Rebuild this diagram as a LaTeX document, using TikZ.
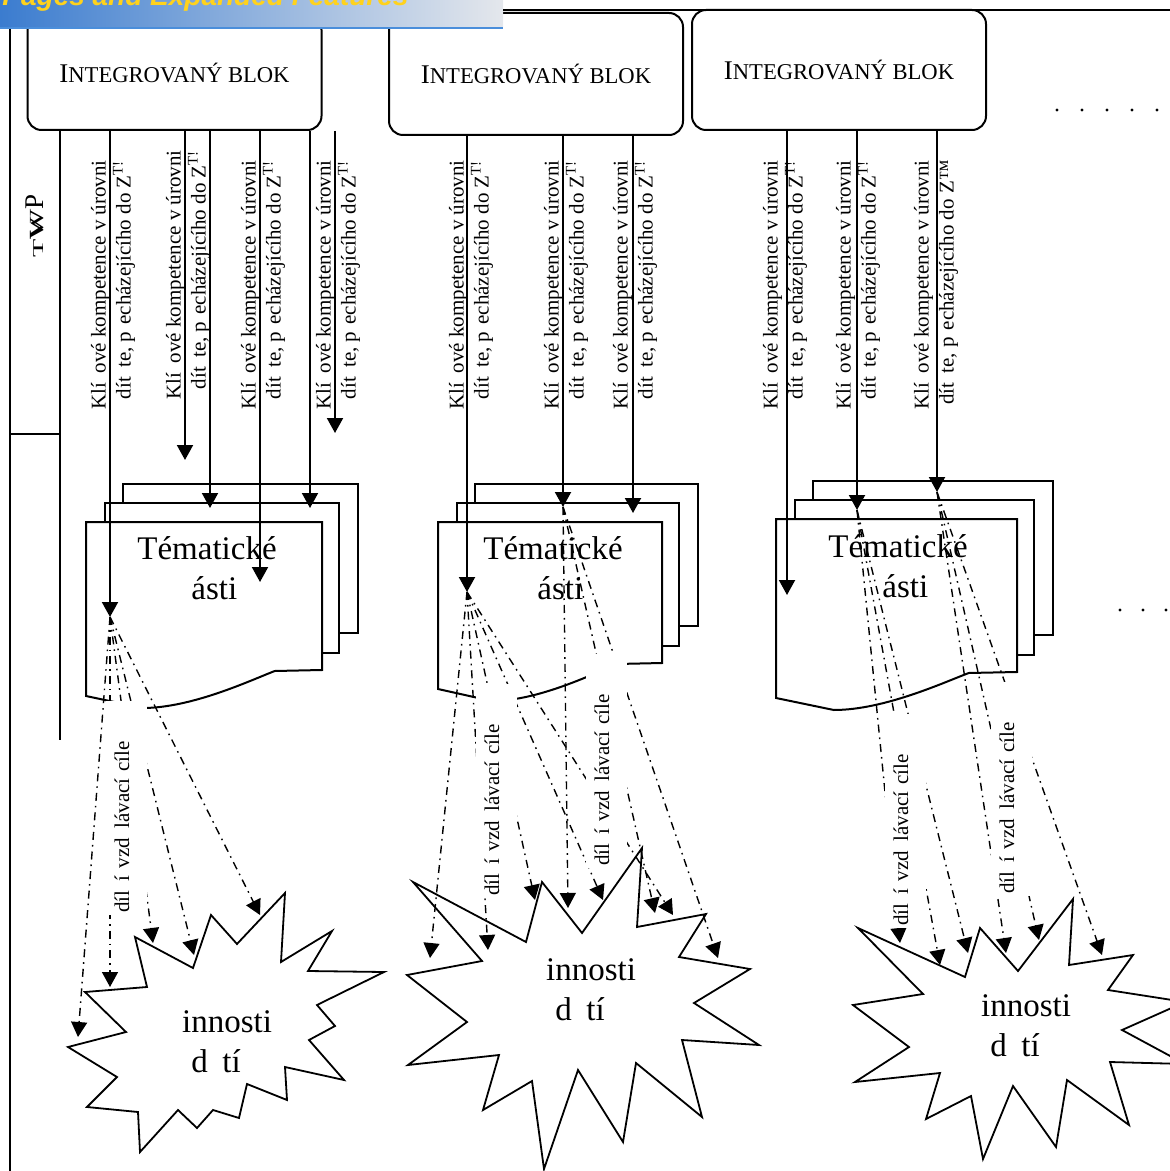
\documentclass[tikz,border=0pt]{standalone}
\usepackage{fontspec}
\setmainfont{Liberation Serif}
\newfontfamily\hdrfont{Liberation Sans}
\usepackage{tikz}
\usetikzlibrary{arrows.meta,positioning,calc}
\definecolor{hdrblue}{HTML}{3B7CCF}
\definecolor{hdrgrey}{HTML}{E4E7EC}
\definecolor{hdrgold}{HTML}{FFD21C}
\definecolor{hdrrule}{HTML}{4A8EDB}
\newcommand{\intblok}{{\fontsize{13.5}{16}\selectfont I}{\fontsize{11.3}{16}\selectfont NTEGROVANÝ BLOK}}
\newcommand{\kctext}[1]{Klí\phantom{č}ové kompetence v úrovni\\dít\phantom{ě}te, p\phantom{ř}echázejícího do Z#1}
\newcommand{\goaltext}{díl\phantom{č}í vzd\phantom{ě}lávací cíle}
\newcommand{\pagestack}[4]{%
  \draw[pagesheet] (#1+37,#2-38) -- (#1+#3+36,#2-38) -- (#1+#3+36,#2+#4-37) -- (#1+37,#2+#4-37) -- cycle;
  \draw[pagesheet] (#1+19,#2-19) -- (#1+#3+17,#2-19) -- (#1+#3+17,#2+#4-17) -- (#1+19,#2+#4-17) -- cycle;
  \draw[pagesheet] (#1,#2) -- (#1+#3,#2) -- (#1+#3,#2+#4) -- (#1+0.8*#3,#2+#4+1)
    .. controls (#1+0.7*#3,#2+#4+10) and (#1+0.45*#3,#2+#4+38) .. (#1+0.24*#3,#2+#4+38)
    -- (#1,#2+#4+26) -- cycle;
}
\tikzset{
  blok/.style={rounded corners=7pt, draw, line width=1pt, minimum width=147pt, inner sep=2pt},
  pagesheet/.style={draw, fill=white, line width=1pt},
  burst/.style={draw, fill=white, line width=0.9pt, line join=miter},
  frameline/.style={line width=1pt},
  temanode/.style={align=center, inner sep=0pt, font=\fontsize{16.5}{20}\selectfont},
  kcarrow/.style={-{Triangle[length=7.5pt,width=8pt]}, line width=1pt},
  goalarrow/.style={-{Triangle[length=7.5pt,width=8pt]}, line width=0.7pt, dash pattern=on 4pt off 2.5pt on 0.8pt off 2.5pt},
  kclabel/.style={rotate=90, anchor=east, align=right, inner sep=0pt, font=\fontsize{10.5}{12.5}\selectfont},
  goallabel/.style={rotate=90, anchor=base west, fill=white, inner sep=1pt, text width=105pt, align=left, text height=10.5pt, text depth=8pt, font=\fontsize{10.5}{12.5}\selectfont}
}
\begin{document}
\begin{tikzpicture}[x=0.5pt,y=-0.5pt]
  \useasboundingbox (0,0) rectangle (1170,1171);
  \clip (0,0) rectangle (1170,1171);

  \node[blok, minimum height=57pt] (blk1) at (174.5,73) {\intblok};
  \node[blok, minimum height=61pt] (blk2) at (536,74) {\intblok};
  \node[blok, minimum height=60pt] (blk3) at (839,70) {\intblok};

  \shade[left color=hdrblue, right color=hdrgrey] (0,0) rectangle (503,27);
  \draw[hdrrule, line width=1.2pt] (0,28) -- (503,28);
  \node[anchor=base west, inner sep=0pt, text=hdrgold, font=\hdrfont\bfseries\itshape\fontsize{14}{16}\selectfont] (hdrtext) at (2,6) {Pages and Expanded Features};

  \draw[frameline] (503,10) -- (1170,10);
  \draw[frameline, line width=1.3pt] (10,29) -- (10,1171);
  \draw[frameline] (60,130) -- (60,740);
  \draw[frameline] (10,434) -- (60,434);
  \node[rotate=90, anchor=base, inner sep=0pt] (tvp) at (43,226) {\scalebox{2}[1]{\fontsize{7.5}{8}\selectfont T}\scalebox{1.6}[1]{\fontsize{10}{10}\selectfont\rlap{V}W}{\fontsize{13.5}{14}\selectfont P}};

  \pagestack{86}{522}{236}{148}
  \pagestack{438}{522}{224}{141}
  \pagestack{776}{519}{241}{153}
  \node[temanode] (tema1) at (207,568) {Tématické\\\phantom{č}ásti};
  \node[temanode] (tema2) at (553,568) {Tématické\\\phantom{č}ásti};
  \node[temanode] (tema3) at (898,566) {Tématické\\\phantom{č}ásti};

  \draw[burst] (85,992) -- (147,987) -- (135,937) -- (193,968) -- (211,915) -- (237,944) -- (285,893) -- (281,962) -- (332,931) -- (308,971) -- (384,972) -- (317,1005) -- (335,1026) -- (309,1040) -- (344,1080) -- (285,1067) -- (287,1100) -- (247,1084) -- (239,1118) -- (213,1110) -- (197,1128) -- (178,1110) -- (140,1152) -- (138,1112) -- (87,1107) -- (117,1077) -- (68,1047) -- (126,1032) -- cycle;
  \draw[burst] (413,882) -- (482,961) -- (407,975) -- (467,1022) -- (408,1065) -- (499,1055) -- (483,1110) -- (532,1081) -- (544,1169) -- (578,1070) -- (623,1142) -- (636,1063) -- (702,1117) -- (682,1040) -- (759,1045) -- (694,1003) -- (750,969) -- (679,957) -- (706,914) -- (637,927) -- (642,848) -- (582,933) -- (542,882) -- (526,942) -- cycle;
  \draw[burst] (858,928) -- (923,994) -- (853,1005) -- (909,1047) -- (855,1082) -- (940,1073) -- (926,1119) -- (971,1096) -- (983,1159) -- (1013,1086) -- (1056,1147) -- (1067,1080) -- (1129,1125) -- (1110,1062) -- (1185,1064) -- (1122,1030) -- (1185,1002) -- (1108,990) -- (1133,955) -- (1069,965) -- (1073,899) -- (1018,971) -- (980,928) -- (965,977) -- cycle;
  \node[temanode] (act1) at (216,1038) {\phantom{Č}innosti\\d\phantom{ě}tí};
  \node[temanode] (act2) at (580,986) {\phantom{Č}innosti\\d\phantom{ě}tí};
  \node[temanode] (act3) at (1015,1022) {\phantom{Č}innosti\\d\phantom{ě}tí};

  \coordinate (k1a) at (110,617);
  \coordinate (k1b) at (185,460);
  \coordinate (k1c) at (210,508);
  \coordinate (k1d) at (260,582);
  \coordinate (k1e) at (310,508);
  \coordinate (k1f) at (335,433);
  \coordinate (k2a) at (467,592);
  \coordinate (k2b) at (563,507);
  \coordinate (k2c) at (633,513);
  \coordinate (k3a) at (787,595);
  \coordinate (k3b) at (857,510);
  \coordinate (k3c) at (937,492);
  \foreach \k in {k1a,k1b,k1c,k1d,k1e,k1f}
    \draw[kcarrow] (blk1.south -| \k) -- (\k);
  \foreach \k in {k2a,k2b,k2c}
    \draw[kcarrow] (blk2.south -| \k) -- (\k);
  \foreach \k in {k3a,k3b,k3c}
    \draw[kcarrow] (blk3.south -| \k) -- (\k);

  \node[kclabel] (kc1a) at (113,160) {\kctext{\textsuperscript{T!}}};
  \node[kclabel] (kc1b) at (188,150) {\kctext{\textsuperscript{T!}}};
  \node[kclabel] (kc1c) at (263,160) {\kctext{\textsuperscript{T!}}};
  \node[kclabel] (kc1d) at (338,160) {\kctext{\textsuperscript{T!}}};
  \node[kclabel] (kc2a) at (471,160) {\kctext{\textsuperscript{T!}}};
  \node[kclabel] (kc2b) at (566,160) {\kctext{\textsuperscript{T!}}};
  \node[kclabel] (kc2c) at (635,160) {\kctext{\textsuperscript{T!}}};
  \node[kclabel] (kc3a) at (785,160) {\kctext{\textsuperscript{T!}}};
  \node[kclabel] (kc3b) at (858,160) {\kctext{\textsuperscript{T!}}};
  \node[kclabel] (kc3c) at (936,160) {\kctext{\texttrademark}};

  \coordinate (g1a) at (78,1037);
  \coordinate (g1b) at (110,987);
  \coordinate (g1c) at (153,943);
  \coordinate (g1d) at (194,955);
  \coordinate (g1e) at (260,915);
  \coordinate (g2a) at (430,958);
  \coordinate (g2b) at (488,950);
  \coordinate (g2c) at (535,900);
  \coordinate (g2d) at (568,908);
  \coordinate (g2e) at (603,900);
  \coordinate (g2f) at (655,913);
  \coordinate (g2g) at (673,915);
  \coordinate (g2h) at (718,958);
  \coordinate (g3a) at (900,943);
  \coordinate (g3b) at (940,965);
  \coordinate (g3c) at (968,953);
  \coordinate (g3d) at (1006,953);
  \coordinate (g3e) at (1039,940);
  \coordinate (g3f) at (1102,955);
  \foreach \g in {g1a,g1b,g1c,g1d,g1e}
    \draw[goalarrow] (k1a) -- (\g);
  \foreach \g in {g2a,g2b,g2c,g2e,g2g}
    \draw[goalarrow] (k2a) -- (\g);
  \foreach \g in {g2d,g2f,g2h}
    \draw[goalarrow] (k2b) -- (\g);
  \foreach \g in {g3a,g3b,g3c}
    \draw[goalarrow] (k3b) -- (\g);
  \foreach \g in {g3d,g3e,g3f}
    \draw[goalarrow] (k3c) -- (\g);

  \node[goallabel] (goal1) at (129,915) {\goaltext};
  \node[goallabel] (goal2a) at (499,898) {\goaltext};
  \node[goallabel] (goal2b) at (609,868) {\goaltext};
  \node[goallabel] (goal3a) at (908,928) {\goaltext};
  \node[goallabel] (goal3b) at (1014,896) {\goaltext};

  \foreach \dx in {1057,1082,1107,1132,1157}
    \fill (\dx,110) circle[radius=0.8pt];
  \foreach \dx in {1120,1143,1166}
    \fill (\dx,610) circle[radius=0.8pt];
\end{tikzpicture}
\end{document}
